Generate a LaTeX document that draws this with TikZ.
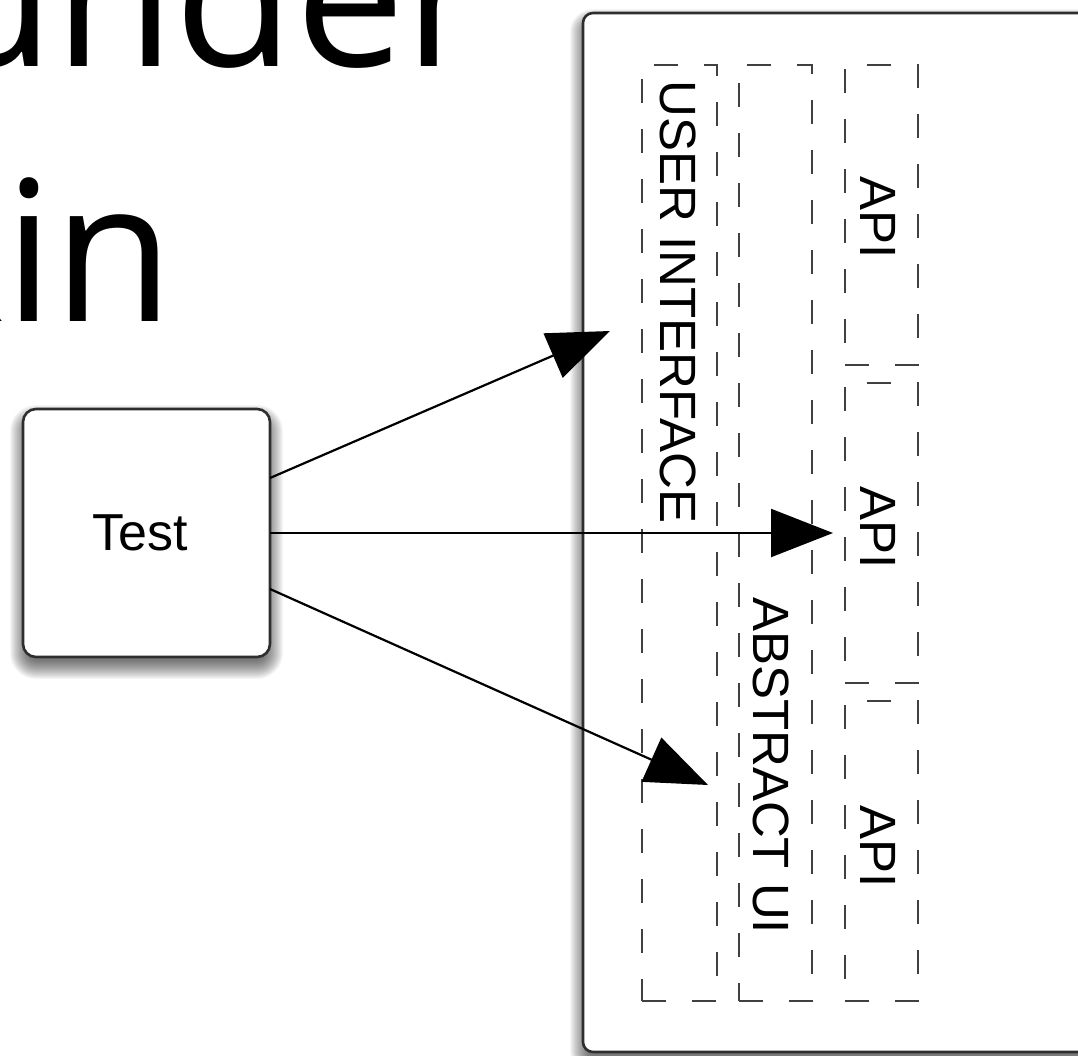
\documentclass[tikz,border=0pt]{standalone}
\usepackage{fontspec}
\setmainfont{Open Sans}
\newfontfamily\diagfont{Liberation Sans}
\usetikzlibrary{arrows.meta,calc}

% soft drop shadow under a rounded box: x1, y1, x2, y2, corner radius
\newcommand\castshadow[5]{%
  \foreach \k in {-5,...,13}{%
    \fill[black, opacity=0.034, rounded corners={max(#5+\k,2)}]
      ({#1-\k},{#2-\k+9}) rectangle ({#3+\k},{#4+\k+9});
  }%
}

\tikzset{
  panel/.style={draw=black!82, line width=2.6pt, fill=white, inner sep=0pt, outer sep=0pt},
  layerbox/.style={draw=black!75, line width=2.6pt, dash pattern=on 24pt off 26pt,
    inner sep=0pt, outer sep=0pt},
  lbl/.style={font=\diagfont\fontsize{51}{51}\selectfont, inner sep=0pt, outer sep=0pt},
  sidelbl/.style={lbl, rotate=-90, anchor=base west},
  apilbl/.style={lbl, rotate=-90, anchor=base},
  conn/.style={draw=black, line width=2.2pt, -{Triangle[length=62pt,width=48pt]}},
  headline/.style={font=\fontsize{196}{235}\selectfont, inner sep=0pt, anchor=base west},
}

\begin{document}
\begin{tikzpicture}[x=1pt, y=-1pt]
  \useasboundingbox (0,0) rectangle (1078,1056);
  \fill[white] (0,0) rectangle (1078,1056);
  \path[clip] (0,0) rectangle (1078,1056);

  % large slide title, running off the left edge
  \node[headline] (titleA) at (-66,67) {under};
  \node[headline] (titleB) at (-99,322) {kin};

  % system under test
  \castshadow{583}{13}{1200}{1052}{10}
  \node[panel, rounded corners=10pt, minimum width=617pt, minimum height=1039pt]
    (system) at (891.5,532.5) {};

  % layers of the system
  \node[layerbox, minimum width=75pt, minimum height=936pt] (ui)  at (679.5,533) {};
  \node[layerbox, minimum width=73pt, minimum height=936pt] (aui) at (775.5,533) {};
  \node[layerbox, minimum width=73pt, minimum height=300pt] (api1) at (881.5,215) {};
  \node[layerbox, minimum width=73pt, minimum height=300pt] (api2) at (881.5,533) {};
  \node[layerbox, minimum width=73pt, minimum height=300pt] (api3) at (881.5,851) {};

  \node[sidelbl] (uilbl)  at (660,81)  {USER INTERFACE};
  \node[sidelbl] (auilbl) at (753,597) {ABSTRACT UI};
  \node[apilbl] (api1lbl) at (860,218) {API};
  \node[apilbl] (api2lbl) at (860,528) {API};
  \node[apilbl] (api3lbl) at (860,847) {API};

  % test driver
  \castshadow{23}{409}{270}{657}{13}
  \node[panel, rounded corners=13pt, minimum width=247pt, minimum height=248pt,
        font=\diagfont\fontsize{52}{52}\selectfont]
    (test) at (146.5,533) {\hspace*{-12pt}Test};

  % where the test reaches into the system
  \coordinate (tipUI)  at (610,331);
  \coordinate (tipAPI) at (833,533);
  \coordinate (tipAUI) at (708,785);

  \draw[conn] ([yshift=55pt]test.east) -- (tipUI);
  \draw[conn] (test.east) -- (tipAPI);
  \draw[conn] ([yshift=-56pt]test.east) -- (tipAUI);
\end{tikzpicture}
\end{document}
